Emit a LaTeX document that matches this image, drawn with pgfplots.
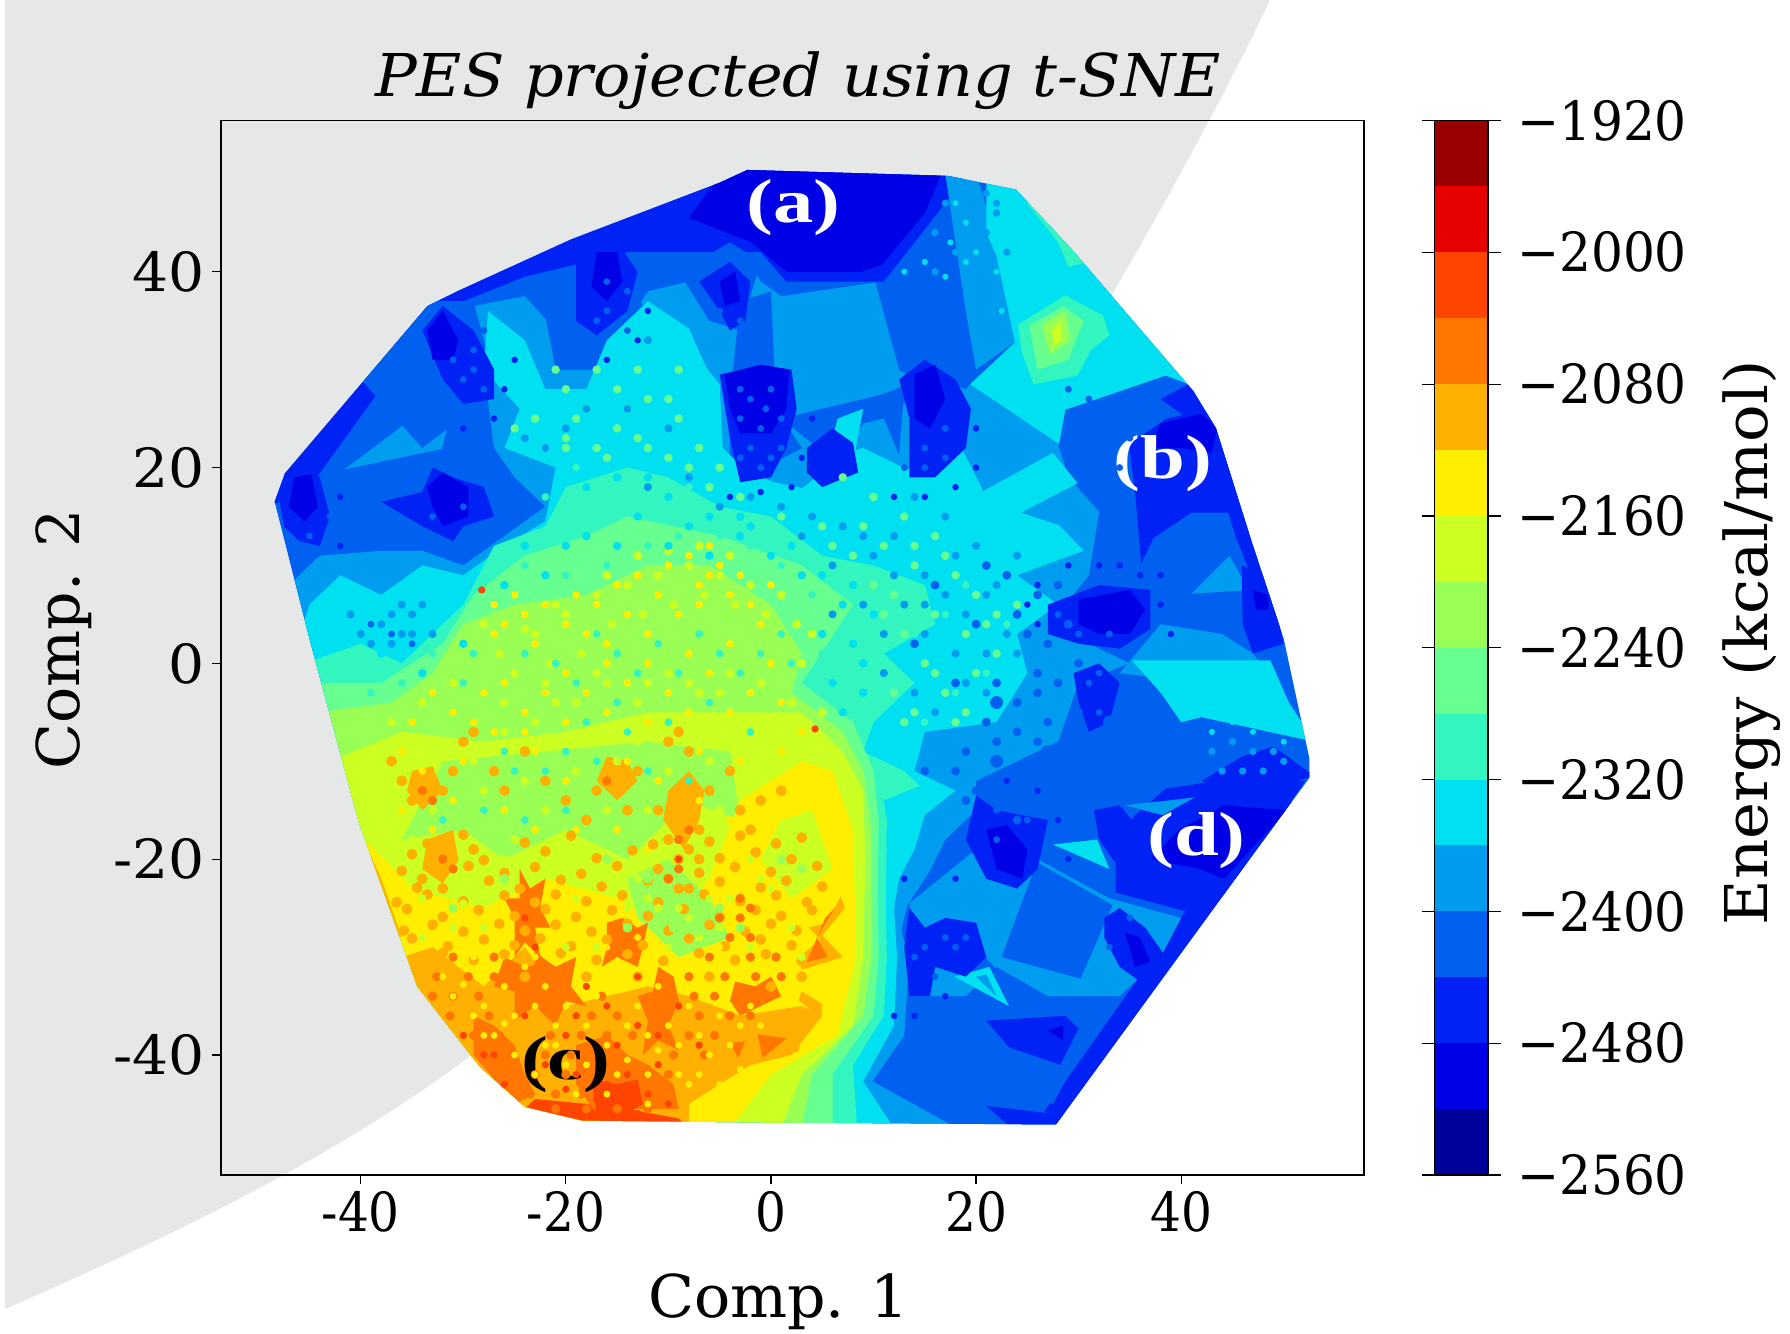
\documentclass[border=0pt]{standalone}
\usepackage{pgfplots}
\pgfplotsset{compat=1.18}
\usepackage{fontspec}
\setmainfont[FakeStretch=0.9]{DejaVu Serif}
\newfontfamily\fTitle[FakeStretch=1.05]{DejaVu Serif}
\newfontfamily\fAxis[FakeStretch=1.02]{DejaVu Serif}
\newfontfamily\fEn[FakeStretch=1.06]{DejaVu Serif}
\newfontfamily\fY[FakeStretch=1.05]{DejaVu Serif}
\newfontfamily\fC[FakeStretch=0.93]{DejaVu Serif}
\newfontfamily\lab[FakeStretch=1.3]{Liberation Serif}
\definecolor{e2540}{HTML}{00009A}\definecolor{e2500}{HTML}{0000E6}
\definecolor{e2460}{HTML}{0022F5}\definecolor{e2420}{HTML}{0060F0}
\definecolor{e2380}{HTML}{009CF0}\definecolor{e2340}{HTML}{00E0F0}
\definecolor{e2300}{HTML}{33F5C0}\definecolor{e2260}{HTML}{66FF90}
\definecolor{e2220}{HTML}{99FF55}\definecolor{e2180}{HTML}{CCFF22}
\definecolor{e2140}{HTML}{FFEE00}\definecolor{e2100}{HTML}{FFB000}
\definecolor{e2060}{HTML}{FF7700}\definecolor{e2020}{HTML}{FF4400}
\definecolor{e1980}{HTML}{E60000}\definecolor{e1940}{HTML}{990000}
\definecolor{bggray}{HTML}{E6E8E7}
\pgfplotsset{
 poly/.style={fill=#1,draw=none,forget plot},
 sp/.style 2 args={only marks,mark=*,mark size=#2,color=#1,mark options={draw=none,fill=#1},forget plot},
 sq/.style 2 args={only marks,mark=diamond*,mark size=#2,color=#1,mark options={draw=none,fill=#1},forget plot},
}
\begin{document}
\begin{tikzpicture}
\path[use as bounding box] (0pt,0pt) rectangle (895pt,667pt);
\fill[bggray] (2.5pt,667pt) -- (635pt,667pt) .. controls (606.5pt,607pt) and (558pt,519.5pt) .. (500pt,427pt) .. controls (440pt,327pt) and (350pt,232pt) .. (232.5pt,137pt) .. controls (165pt,87pt) and (86pt,49pt) .. (2.5pt,12.5pt) -- cycle;
\begin{axis}[at={(110.35pt,79.5pt)},anchor=south west,scale only axis,width=571.5pt,height=527.25pt,
 xmin=-53.66,xmax=57.8,ymin=-52.26,ymax=55.45,
 xtick={-40,-20,0,20,40},xticklabels={-40,-20,0,20,40},
 ytick={-40,-20,0,20,40},yticklabels={-40,-20,0,20,40},
 tick align=outside,tick pos=left,major tick length=4.5pt,
 tick style={black,line width=0.6pt},axis line style={line width=0.9pt},
 xticklabel style={font=\fontsize{27}{27}\selectfont},
 yticklabel style={font=\fY\fontsize{27}{27}\selectfont},
 title={\itshape PES projected using t-SNE},
 title style={at={(axis description cs:0.505,1.0265)},anchor=center,font=\fTitle\fontsize{29.5}{30}\selectfont},
 xlabel={Comp. 1},ylabel={Comp. 2},
 xlabel style={at={(axis description cs:0.488,-0.12)},anchor=center,font=\fAxis\fontsize{29.5}{30}\selectfont},
 ylabel style={at={(axis description cs:-0.137,0.508)},anchor=center,font=\fAxis\fontsize{29.5}{30}\selectfont},
 axis on top]
\clip (axis cs:-2.3,50.4)--(axis cs:17.2,49.8)--(axis cs:23.9,48.4)--(axis cs:29.5,42.1)--(axis cs:41.2,27.8)--(axis cs:43.4,24.0)--(axis cs:46.7,13.0)--(axis cs:50,2.5)--(axis cs:52.5,-9.7)--(axis cs:52.5,-11.7)--(axis cs:47.3,-19.1)--(axis cs:27.8,-47.1)--(axis cs:-0.6,-46.9)--(axis cs:-18.4,-46.7)--(axis cs:-24,-45.3)--(axis cs:-28.4,-41.2)--(axis cs:-34.5,-33)--(axis cs:-40.2,-16.2)--(axis cs:-45,2.5)--(axis cs:-48.4,16.5)--(axis cs:-47.4,19.4)--(axis cs:-33.5,36.5)--(axis cs:-30.6,38)--(axis cs:-19.5,43.3)--(axis cs:-5,49.1)--cycle;
% --- base
\addplot[poly=e2420] coordinates {(-60,60)(60,60)(60,-60)(-60,-60)} --cycle;
% --- rims
\addplot[poly=e2460] coordinates {(-49,16)(-48,21)(-34,38)(-30,39)(-20,45)(-6,51)(20,51)(14,43)(11,39)(1.5,39)(-1,42)(-14,42)(-24,39.5)(-30,37)(-36,31)(-45,18)} --cycle;
\addplot[poly=e2500] coordinates {(-8,45.5)(-5.2,49.5)(-2,51)(17,51)(16.4,49.4)(15,46)(10.8,40.7)(8.8,40)(1.5,40)(-1.9,43)} --cycle;
\addplot[poly=e2460] coordinates {(27.8,-47.5)(54,-12)(48,-16)(44,-20)(26.5,-46)} --cycle;
\addplot[poly=e2460] coordinates {(40.7,28.5)(44,24.5)(47.5,13)(50.5,3)(48.7,4)(45.3,13)(42,24)(38,27)} --cycle;
\addplot[poly=e2460] coordinates {(36.1,10.2)(35.5,17.6)(34.9,22.4)(38.6,25)(42.3,25.9)(43.5,24.6)(45.9,16.8)(48.4,8)(45.9,15.4)(41,15.4)(37.3,12.8)} --cycle;
\addplot[poly=e2500] coordinates {(37,22)(38,24.5)(42,25.5)(43.5,24)(43,21.5)(40,22)} --cycle;
% --- light blue field
\addplot[poly=e2380] coordinates {(-41.6,19.8)(-32.1,21.9)(-30.4,28.5)(-35,25)} --cycle;
\addplot[poly=e2380] coordinates {(-47,8)(-44,11)(-38,11.5)(-34,11.5)(-30,10)(-26,13)(-22,16)(-25,19)(-27,22)(-27.5,26)(-28,30)(-29,36.5)(-24,37.5)(-21,34)(-17,31.5)(-14.5,34)(-12,38)(-8,39)(-3,42.4)(-1,39)(1,37.5)(10.2,38.9)(12.1,33.3)(14,30)(17,29)(19.4,28.5)(28.7,25.9)(28,22.4)(29,19)(32,15.5)(31,9)(28,5)(31,2)(35,0)(30,-2)(28,-8)(24,-10)(20,-12)(20,-15)(17,-18)(15.5,-21.2)(13.3,-24.7)(12.7,-27.3)(13.5,-30)(13,-38)(9.9,-42.7)(18.2,-47.5)(-30,-47.5)(-50,-20)} --cycle;
\addplot[poly=e2380] coordinates {(41,7.1)(44.7,11)(46.6,7.5)} --cycle;
\addplot[poly=e2380] coordinates {(38,4)(44,3)(47,1)(50,-3)(34,-1)} --cycle;
% pieces in the upper field
\addplot[poly=e2420] coordinates {(-3,37)(0,38)(0.5,26)(3,22)(-4,18)(-4,27)} --cycle;
\addplot[poly=e2420] coordinates {(10.2,38.9)(11.5,39)(14.5,30)(19,28)(23,33)(19.5,38)(17,36)(14.5,39.5)(14,29)(12.5,30)} --cycle;
\addplot[poly=e2420] coordinates {(5.5,23.5)(14,27)(14.5,29)(5,25)} --cycle;
\addplot[poly=e2420] coordinates {(1,25)(13,28)(12,15)(3,14)(7,20)} --cycle;
\addplot[poly=e2380] coordinates {(9,24.5)(11,25)(13,20)(10,19.5)(7,22)} --cycle;
\addplot[poly=e2340] coordinates {(6.5,25)(9,26)(8,20.5)(5.5,21)} --cycle;
\addplot[poly=e2420] coordinates {(-22,35.5)(-18,41)(-14,41)(-12,35)(-16,30)(-21,30)} --cycle;
\addplot[poly=e2420] coordinates {(-40,29)(-33,37)(-29,37)(-27,29)(-29,26)(-34,22)} --cycle;
\addplot[poly=e2420] coordinates {(-9,40)(-4,43)(-1,41)(-3,34)(-6,35)} --cycle;
% --- cyan
\addplot[poly=e2380] coordinates {(17,50)(20,50)(23,40)(24,33)(20,30)(19,36)(18,43)} --cycle;
\addplot[poly=e2340] coordinates {(21,49)(24,49)(30,43)(42,28)(38.5,29.4)(28.7,25.9)(28.1,22.4)(21.3,27.2)(19.4,28.5)(23.8,32.8)(22,41.6)(21,44)} --cycle;
\addplot[poly=e2300] coordinates {(24.1,34.6)(28.7,37.6)(32.4,35.5)(33,33.5)(31.2,32)(29.9,29.4)(25.6,28.5)(24.4,32)} --cycle;
\addplot[poly=e2260] coordinates {(25.2,34.5)(28.5,36.5)(30.5,35)(29,31)(26,30)} --cycle;
\addplot[poly=e2220] coordinates {(26.5,34.6)(28.7,36)(29.2,33)(27.2,31.5)} --cycle;
\addplot[poly=e2180] coordinates {(27.4,34)(28.2,35)(28.4,33)(27.6,32.5)} --cycle;
\addplot[poly=e2300] coordinates {(25,47)(27,46.5)(31,41)(29,40.5)(28,43)} --cycle;
\addplot[poly=e2340] coordinates {(35.2,0.3)(48.7,0.3)(50.5,-4)(53,-8)(42,-5.5)(40,-6)(38,-3)} --cycle;
\addplot[poly=e2340] coordinates {(-46.5,1)(-45,6)(-42,9)(-38,7)(-34,10)(-30,9)(-26,12)(-22,14.5)(-21,20)(-26,22)(-24.5,26)(-28,30)(-27.6,36)(-24,33)(-22,28)(-18,28)(-16,33)(-12,37)(-8,34.2)(-6.3,30.2)(-5,28.5)(-4.7,22)(-2.5,19.7)(0.3,18.5)(3.1,17.9)(7.1,21.5)(9,22)(13.3,19.8)(18.2,22.8)(20.7,17.6)(27.5,21.5)(29.9,18.4)(24.4,15.4)(28.1,14.1)(30.5,11.5)(24,9)(28,6)(24,3)(25,-1)(22,-6)(15,-7)(14,-11)(18,-13)(15,-15.5)(14,-19)(12.5,-22)(12,-25)(12.3,-30)(12,-37)(9,-42.7)(12,-47.5)(-30,-47.5)(-50,-20)} --cycle;
\addplot[poly=e2340] coordinates {(20,-26)(23.2,-25.5)(21.3,-29.7)} --cycle;
% --- warm bands
\addplot[poly=e2300] coordinates {(-45.5,0)(-40,2)(-36,0)(-30,6)(-27,12)(-22,14)(-20,18)(-14,20)(-10,19)(-5,16)(0,15)(5,11)(10,10)(15,8)(16,4)(11,1)(14,-2)(10,-6)(9,-9)(13,-11)(14.5,-12.5)(11,-14)(11.3,-16)(11.2,-25)(11.3,-30)(11,-36)(8,-41)(8.4,-47.5)(-30,-47.5)(-50,-20)} --cycle;
\addplot[poly=e2260] coordinates {(-45,-2)(-38,-2)(-32,2)(-29,7)(-24,11)(-18,13)(-14,15)(-5,13)(3,10)(8,6)(3,-2)(8,-6)(10,-11)(10.5,-16)(10.4,-25)(10.5,-30)(10,-36)(6,-42)(6,-47.5)(-30,-47.5)(-50,-20)} --cycle;
\addplot[poly=e2220] coordinates {(-44,-5)(-37,-4)(-33,-1)(-30,4)(-25,6)(-18,7)(-12,10)(-6,10)(0,6)(3,1)(2,-3)(7,-7)(9,-11)(9.8,-17)(9.8,-30)(9,-36)(4,-42)(3,-47.5)(-30,-47.5)(-50,-20)} --cycle;
\addplot[poly=e2180] coordinates {(-43,-10)(-36,-7)(-28,-8)(-20,-7)(-12,-5)(-5,-5)(3,-5)(7,-9)(9,-13)(9.2,-20)(9,-30)(8,-37)(3,-42)(1,-47.5)(-30,-47.5)(-50,-20)} --cycle;
\addplot[poly=e2220] coordinates {(-32,-10)(-22,-9)(-12,-8)(-4,-9)(-3,-16)(-8,-14)(-14,-20)(-20,-17)(-26,-20)(-30,-17)(-36,-18)} --cycle;
\addplot[poly=e2140] coordinates {(-40.5,-17)(-35,-23)(-28,-25)(-22,-22)(-15,-24)(-10,-27)(-6,-22)(-3,-14)(3,-10)(6,-11)(8,-17)(8.2,-25)(8.3,-30)(6.5,-38)(0,-42)(-4,-47.5)(-26,-47.5)(-35,-35)} --cycle;
\addplot[poly=e2220] coordinates {(-14,-22)(-10,-20)(-6,-24)(-4,-28)(-9,-30)(-13,-26)} --cycle;
\addplot[poly=e2180] coordinates {(1,-16)(4,-15)(6,-21)(2,-24)(-1,-20)} --cycle;
\addplot[poly=e2100] coordinates {(-36,-30)(-33,-29)(-28,-33)(-24,-29)(-20,-35)(-12,-33)(-8,-34)(-3,-36)(3,-35)(5,-36)(2,-40)(-2,-41)(-8,-45)(-8,-47.5)(-26,-47.5)(-34,-37)} --cycle;
\addplot[poly=e2100] coordinates {(-41,-15)(-38,-22)(-36,-28)(-37.5,-28)} --cycle;
\addplot[poly=e2020] coordinates {(-25,-46.5)(-23,-44.5)(-18,-45)(-14,-45.5)(-9,-46.5)(-8,-47.5)} --cycle;
\addplot[poly=e2100] coordinates {(6.8,-23.8)(7.2,-25)(5,-27.8)(7,-30)(3,-31.3)(2.8,-30)(4.8,-28.2)(3.7,-27)(5.4,-26.5)} --cycle;
\addplot[poly=e2100] coordinates {(3,-33.5)(5,-34.8)(4.9,-36.3)(2.7,-34.4)} --cycle;
\addplot[poly=e2100] coordinates {(-0.2,-37.4)(2.9,-38.3)(2.7,-39.6)(-1.8,-41)(-5.2,-40.5)(-4,-38.3)} --cycle;
\addplot[poly=e2060] coordinates {(-1.3,-37.9)(1.5,-38.3)(-0.8,-40.3)} --cycle;
\addplot[poly=e2060] coordinates {(-4,-38.8)(-2.5,-38.6)(-3.2,-40.3)} --cycle;
\addplot[poly=e2060] coordinates {(5.3,-26)(6.2,-25)(4.5,-28)(5.5,-30)(3.5,-30.5)} --cycle;
\addplot[poly=e2020] coordinates {(-35,-34.5)(-29,-42)(-25,-46)(-26,-46)(-30,-41)} --cycle;
% jagged orange patches of the lower left
\addplot[poly=e2060] coordinates {(-24.5,-21)(-23.5,-23)(-22,-22)(-22.5,-25)(-21.5,-27)(-23,-27)(-22.5,-30)(-24,-28.5)(-25,-30)(-25,-26)(-26,-24)(-24.5,-24)} --cycle;
\addplot[poly=e2060] coordinates {(-26,-30)(-24,-31)(-23,-29.5)(-21,-31)(-19,-30)(-19.5,-33)(-18,-35)(-20,-34.5)(-21,-37)(-23,-35)(-25,-36.5)(-25,-33.5)(-27,-33)} --cycle;
\addplot[poly=e2060] coordinates {(-16,-26.5)(-14.5,-26)(-13,-27)(-12,-26.5)(-12.5,-29)(-13,-31)(-15,-30)(-16.5,-31)(-16,-29)} --cycle;
\addplot[poly=e2060] coordinates {(-11,-31)(-9.5,-32)(-9,-34.5)(-10,-37)(-9,-39.5)(-11,-38.5)(-12.5,-40)(-12,-36.5)(-13,-34)(-11.5,-33.5)} --cycle;
\addplot[poly=e2060] coordinates {(-3.5,-32.5)(-1.5,-33)(0,-32)(1,-34)(-1,-35)(-3,-36)(-4,-34.5)} --cycle;
\addplot[poly=e2060] coordinates {(-19,-39)(-16,-38)(-14,-40)(-12,-41)(-9.5,-43)(-9,-45.5)(-13,-45.5)(-17,-46)(-19,-43)} --cycle;
\addplot[poly=e2060] coordinates {(-29,-36)(-27,-37)(-25,-39)(-24,-42)(-23,-44)(-25,-45)(-27,-42.5)(-29,-40)} --cycle;
\addplot[poly=e2020] coordinates {(-17.5,-42.5)(-15,-43)(-13,-42.5)(-12.5,-45)(-15,-46.5)(-17,-46)} --cycle;
\addplot[poly=e2100] coordinates {(-10,-13)(-8,-11)(-6.5,-13)(-7,-16)(-8.5,-19)(-10.5,-16)} --cycle;
\addplot[poly=e2100] coordinates {(-33.5,-18)(-31,-17)(-30.5,-20)(-32,-22.5)(-34,-21)} --cycle;
\addplot[poly=e2100] coordinates {(-16,-9.5)(-14,-10)(-13,-12)(-15,-14)(-17,-12)} --cycle;
\addplot[poly=e2100] coordinates {(-35,-11)(-33,-10.5)(-32,-13)(-34,-15)(-35.5,-13)} --cycle;
% --- speckle, centre
\addplot[sp={e2180}{2pt}] coordinates {(-28,4)(-26.5,1)(-25,-1)(-23,3)(-21.5,0)(-20,5)(-18.5,1)(-17,7)(-15.5,4)(-14,8)(-12.5,5)(-11,9)(-9.5,6)(-8,10)(-6.5,7)(-5,9)(-3.5,6)(-2,8)(-0.5,5)(1,7)(2.5,4)(4,3)(-22,-2)(-19,-4)(-16,-2)(-13,-4)(-10,-1)(-7,-3)(-4,-1)(-1,-2)(2,-4)(5,-5)(-34,-4)(-31,-2)(-37,-6)(-29,-10)(-26,-7)(-23,-6)(-18,-8)(-13,-8)(-8,-7)(-3,-7)(-32,-8)(-24,-12)(-19,-11)(-15,-10)(-10,-11)(-6,-10)(-1,-11)(-28,-13)(-33,-15)(-22,-15)(-16,-15)(-5,-15)(-30,-19)(-25,-18)(-17,-19)(-12,-15)(-24,3.5)(-21,6)(-16,9)(-13,11)(-10,11.5)(-7,12)(-4,11)(-26,-4)(-21,-4)(-17,-1)(-12,-2)(-8,-2)(-5,-3)(-1,1)(3,0)};
\addplot[sp={e2140}{1.7pt}] coordinates {(-27,6)(-26,4)(-27,3)(-25,7)(-24,5)(-23,2)(-22,6)(-20,4)(-19,7)(-18,3)(-17,6)(-16,2)(-15,8)(-14,5)(-13,9)(-12,3)(-11,7)(-10,10)(-9,5)(-8,11)(-7,8)(-6,9)(-5,10)(-6,12)(-7,6)(-4,7)(-3,9)(-2,6)(-1,4)(0,8)(-20,-1)(-18,-3)(-16,0)(-14,-2)(-12,0)(-10,-3)(-8,1)(-6,-1)(-4,2)(-2,-3)(0,0)(-24,-5)(-22,-3)(-26,-2)(-28,-3)(-31,-5)(-33,-3)(-35,-6)(-29,-6)(-27,-7)(-24,-7)(-20,-6)(-16,-5)(-12,-6)(-8,-5)(-4,-5)(1,-4)(3,-7)(-36,-9)(-34,-11)(-30,-10)(-27,-11)(-23,-9)(-20,-12)(-14,-10)(-11,-12)(-7,-9)(-3,-10)(1,-9)(-36,-15)(-33,-17)(-31,-14)(-26,-15)(-23,-17)(-19,-17)(-15,-17)(-12,-19)(-7,-14)(-4,-16)(-1,-15)(-2,-19)};
\addplot[sp={e2300}{1.7pt}] coordinates {(-24,1)(-21,0)(-19,-2)(-17,3)(-15,1)(-13,-1)(-11,2)(-9,-1)(-7,3)(-5,1)(-3,-1)(-1,1)(1,3)(2,0)(-18,-6)(-14,-7)(-10,-6)(-6,-4)(-2,-7)(-30,-2)(-26,-9)(-22,-11)(-17,-10)(-12,-11)(-8,-12)(-32,-16)(-28,-15)(-24,-16)(-20,-15)(-2,12)(1,10)(4,7)(-12,12)(-16,10)(-9,13)(-5,13)(-20,9)(-24,10)(-26,8)(-29,1)(-33,1)(-36,-2)(-39,-3)(6,5)(5,1)(4,-2)(-15,-4)(-20,-9)(-25,-11)(7,8)(9,3)(12,6)(14,3)(17,5)(19,8)(11,-3)(15,-6)(18,-3)(21,-1)(23,4)(-17,15)(-13,17)(-8,18)(-19,20)(-22,17)};
\addplot[sp={e2340}{1.9pt}] coordinates {(-18,13)(-13,15)(-8,14)(-3,15)(2,12)(5,9)(8,8)(10,5)(8,2)(5,3)(6,-2)(9,-3)(-22,9)(-26,8)(-30,2)(-34,-1)(-38,1)(-3,13)(0,11)(-10,12)(-32,6)(-15,12)(-6,11)(3,9)(7,6)(9,0)(7,-5)(-24,12)(-20,12)(-15,19)(-10,17)(-6,15)(-2,14)(-18,18)(-12,19)};
\addplot[sp={e2260}{1.9pt}] coordinates {(-20,23)(-16,21)(-13,23)(-17,22)(-19,25)(-15,24)(-12,22)(-10,21)(-8,20)(-6,18)(-7,22)(-9,25)(-12,27)(-15,28)(-20,28)(-23,25)(-20,22)(7,19)(10,17)(13,15)(16,13)(11,12)(14,10)(18,9)(20,7)(16,5)(19,3)(22,5)(13,3)(15,0)(12,-3)(17,-3)(20,-1)(14,-5)(18,-6)(22,1)(8,11)(5,14)(-18,26)(-14,26)(-10,27)(-22,22)(9,14)(12,7)(14,12)(17,11)(21,4)(24,6)(10,8)(11,5)(16,-1)(13,-6)(19,-5)(-25,24)(-21,30)(-17,30)(-13,30)(-9,30)(1,15)(3,13)(6,12)(-3,17)(-5,20)};
\addplot[sp={e2380}{1.8pt}] coordinates {(-14,26)(-10,24)(-12,18)(-8,19)(-5,16)(-2,17)(1,16)(4,15)(7,14)(9,13)(12,9)(15,6)(9,6)(6,5)(11,-1)(18,1)(21,-3)(23,-5)(25,-7)(20,-8)(17,-9)(24,1)(26,3)(22,8)(24,11)(20,12)(17,15)(14,17)(-37,5)(-35,3)(-38,4)(-36,6)(-39,2)(-34,6)(-41,5)(-33,3)(-12,33)(-18,26)(-22,22)(11,3)(13,6)(15,3)(17,7)(19,5)(21,1)(23,3)(14,-3)(16,-5)(19,-2)(22,-2)(10,11)(12,13)(15,9)(18,11)(21,7)(6,10)(3,13)(-20,24)(-24,23)(-37,2)(-35,5)(-40,3)(-36,3)};
\addplot[sp={e2420}{2pt}] coordinates {(14,2)(18,-2)(22,-2)(24,-4)(26,-3)(27,-6)(25,-10)(22,-8)(19,-9)(20,4)(24,5)(26,7)(28,8)(27,2)(28,-2)(23,9)(21,10)(16,8)(29,4)(30,0)(30,-5)(28,-10)(15,-11)(18,-11)(22,-12)(25,-12)(28,-13)(23,-14)(19,-14)(27,-15)(30,-12)(25,3)(26,-1)(24,-7)(21,-6)(23,-11)(26,-8)(20,-13)(24,-16)};
\addplot[sp={e2420}{3pt}] coordinates {(27,-9)(22,-4)(33,-6)(22,-10)(31,-10)(36,-8)};
% --- speckle, warm
\addplot[sp={e2100}{2.5pt}] coordinates {(-37,-10)(-36,-12)(-35,-14)(-33,-12)(-32,-13)(-31,-11)(-30,-8)(-29,-7)(-27,-11)(-26,-13)(-24,-9)(-22,-12)(-20,-14)(-18,-16)(-17,-13)(-16,-11)(-15,-13)(-14,-15)(-13,-11)(-11,-15)(-10,-8)(-9,-7)(-8,-9)(-9,-16)(-8,-15)(-7,-17)(-8,-19)(-9,-20)(-7,-20)(-10,-18)(-11,-21)(-10,-22)(-9,-23)(-6,-13)(-4,-11)(-3,-15)(-2,-17)(-1,-14)(1,-13)(-33,-19)(-32,-21)(-34,-22)(-31,-20)(-32,-23)(-29,-19)
(-33.5,-18.4)(-30,-17.5)(-24,-18.3)(-19.5,-17.6)(-11.5,-18.5)(-8.5,-17.4)(-6,-18.2)(-3,-17.6)(0.5,-18.4)(3,-17.8)
(-35,-19.5)(-28,-20.1)(-22,-19.2)(-17,-19.9)(-13.5,-19.1)(-5,-19.9)(-1.5,-19.3)(2,-20)
(-36,-21.2)(-29.5,-20.7)(-26,-21.4)(-23,-20.8)(-18.5,-21.5)(-15,-20.7)(-7,-21.4)(-3.5,-20.8)(0,-21.3)(4.5,-20.7)
(-34.5,-22.9)(-27.5,-22.2)(-24.5,-23)(-20.5,-22.1)(-16.5,-22.8)(-12,-22.2)(-8,-23)(-5,-22.3)(-1,-22.9)(1.5,-22.2)(5,-22.8)
(-36.5,-24.4)(-33.5,-23.6)(-30,-24.3)(-26,-23.7)(-23,-24.4)(-21,-23.6)(-18,-24.3)(-14.5,-23.7)(-11,-24.4)(-6.5,-23.6)(-3,-24.3)(0.5,-23.7)(3.5,-24.4)
(-35.5,-25.1)(-32,-25.9)(-28.5,-25.2)(-25,-25.8)(-22,-25.1)(-19,-25.9)(-15.5,-25.2)(-12,-25.8)(-8.5,-25.1)(-5,-25.9)(-1.5,-25.2)(1,-25.8)(4,-25.2)
(-35.8,-27.3)(-33,-26.7)(-30,-27.4)(-26.5,-26.6)(-24,-27.3)(-21,-26.7)(-17.5,-27.4)(-14,-26.6)(-10,-27.3)(-6,-26.7)(-2.5,-27.4)(0,-26.6)(2.5,-27.3)
(-35,-28.1)(-31.5,-28.9)(-28,-28.2)(-25,-28.8)(-22.5,-28.1)(-19.5,-28.9)(-16,-28.2)(-12.5,-28.8)(-8,-28.1)(-4.5,-28.9)(-1,-28.2)(2,-28.8)
(-34,-30.4)(-32,-29.6)(-29,-30.3)(-26,-29.7)(-23.5,-30.4)(-20.5,-29.6)(-17,-30.3)(-14,-29.7)(-10.5,-30.4)(-7,-29.6)(-3.5,-30.3)(-0.5,-29.7)(3,-30.4)
(-30,-32)(-24,-32)(-18,-32)(-13,-32)(-6,-32)(0,-33)(3,-32)};
\addplot[sp={e2180}{1.8pt}] coordinates {(-34,-24)(-30,-24.5)(-27,-24)(-26,-20)(-21,-21)(-17,-29)(-14,-25)(-11,-25)(-8,-26)(-7,-28)(-5,-27)(-13,-22)(-10,-29)(-6,-24)(-20,-29)(-28,-27)(-31,-27)(-34,-28)(-2,-29)(-1,-22)(2,-27)(3,-30)(-16,-22)(-23,-22)(-37,-19)(-35,-18)(-13,-20)(-9,-25)(-12,-24)(-4,-24)(0,-23)(-19,-24)(-2,-20)};
\addplot[sp={e2220}{2.2pt}] coordinates {(-12,-22)(-9.5,-27)(-7,-25)(-5,-25)(-14,-27)(-3,-27)(-26,-22)(-16,-20)(-31,-25)(1,-20)(3,-21)};
\addplot[sp={e2060}{2.1pt}] coordinates {(-34,-13)(-33,-14)(-9,-18)(-8,-17)(-10,-22)(-9,-21)(-16,-12)(-3,-24)(-2,-25)(-31,-21)(-32,-20)
(-5,-26)(-3,-26)(-4,-28)(-2,-28)
(-31,-30)(-27,-30)(-6,-30)(-2,-30)(0.5,-30)
(-32.6,-32)(-29.5,-32)(-27,-32)(-8,-32)(-4.5,-32)(-1.5,-32)(1,-32)
(-33,-34)(-31,-34)(-28.5,-34)(-16.5,-34)(-7.5,-34)(-5.5,-34)(-3,-34)
(-31.3,-36)(-27.5,-36)(-17.5,-36)(-15,-36)(-7,-36)(-4,-36)(-2,-36)
(-29,-38)(-26.5,-38)(-21.5,-38)(-18.5,-38)(-16,-38)(-13.5,-38)(-8,-38)(-5.5,-38)
(-27.5,-40)(-22,-40)(-19.5,-40)(-9.5,-40)(-6.5,-40)
(-25.5,-42)(-23,-42)(-20,-42)(-10,-42)
(-23.5,-44)(-21,-44)(-18.5,-44)(-21,-45.5)(-18,-45.5)(-15,-45.5)(-12,-45.5)};
\addplot[sp={e2020}{1.6pt}] coordinates {(-30,-38)(-27,-40)(-22,-41)(-19,-42)(-16,-43)(-14,-42)(-12,-44)(-10,-45)(-20,-38)(-15,-39)(-11,-38)(-24,-36)(-18,-33)(-13,-32)(4.3,-6.7)(-28.2,7.5)(-26,-43)(-23,-45)(-20,-43.5)(-17,-44.5)(-14,-44)(-19,-46)(-17,-46)(-13,-46)(-28,-40)(-9,-20)(-24,-26)(-23,-29)(-19,-36)(-16,-35)(-13,-37)(-9,-35)(-7,-39)(-11,-41)};
\addplot[sp={e2140}{1.5pt}] coordinates {(-31,-34)(-30,-32.8)(-28,-35)(-27,-31)(-26,-33)(-25,-36)(-24,-31)(-23,-35)(-22,-33)(-21,-37)(-20,-35)(-19,-32)(-18,-37)(-17,-34)(-16,-39)(-15,-33)(-14,-37)(-13,-35)(-12,-38)(-11,-33)(-10,-37)(-9,-39)(-8,-35)(-7,-38)(-6,-33)(-5,-36)(-4,-35)(-3,-37)(-2,-35)(0,-35)(-27,-38)(-25,-40)(-22,-39)(-18,-41)(-15,-42)(-12,-42)(-9,-42)(-23,-42)(-20,-41)(-16,-44)(-12,-45)(-19,-44)(-32,-32)(-29,-30)(-23,-30)(-19,-28)(-16,-29)(-13,-28)(-9,-31)(-5,-29)(-2,-31)(-26,-36.8)(-28,-38)(-21,-39)(-14,-40.5)(-11,-39.5)(-7,-42)(-4,-39)(-29,-36)(-6,-40)(-3,-41.5)(-8,-43)(-1,-37)(-5,-43)};
% --- dark blobs
\addplot[poly=e2460] coordinates {(-48,17)(-46,21)(-44,19)(-43,15)(-44,12)(-46,12.5)(-47.5,14)} --cycle;
\addplot[poly=e2500] coordinates {(-46.5,19)(-44.8,19.3)(-44.2,16)(-45.5,14.5)(-47,16)} --cycle;
\addplot[poly=e2460] coordinates {(-34,34)(-32,36.5)(-29,34)(-27,30)(-27,27)(-30,26.5)(-32,29)} --cycle;
\addplot[poly=e2500] coordinates {(-33.5,34)(-32,36)(-30.5,33)(-31,31)(-33,31)} --cycle;
\addplot[poly=e2460] coordinates {(-19,41)(-15,43)(-13,40)(-14,36)(-17,33.5)(-19,35)} --cycle;
\addplot[poly=e2500] coordinates {(-17,42)(-15,42)(-14.5,39)(-16,37)(-17.5,38.5)} --cycle;
\addplot[poly=e2460] coordinates {(-7,39)(-4,41)(-2,39)(-2.5,35)(-4,34)(-5,36)} --cycle;
\addplot[poly=e2500] coordinates {(-5,39)(-3.5,40)(-3,37)(-4.5,36.5)} --cycle;
\addplot[poly=e2460] coordinates {(-5,29.5)(-1,30.5)(2,30)(2.5,26)(1.5,22)(0,19)(-3,18.5)(-4,23)} --cycle;
\addplot[poly=e2500] coordinates {(-4.5,29.5)(-1,30.5)(1.8,30)(1.5,26)(0,23.5)(-3,23.5)(-4,26)} --cycle;
\addplot[poly=e2420] coordinates {(-41,18)(-37,19)(-32,21)(-28,19)(-24,18)(-26,13)(-29,12)(-33,13)(-36,15)} --cycle;
\addplot[poly=e2460] coordinates {(-38,16.5)(-34,17.5)(-33,20)(-31,19)(-28,18)(-27,15)(-30,14)(-31,12.5)(-34,14)} --cycle;
\addplot[poly=e2500] coordinates {(-33.5,18)(-32,19.5)(-29.5,18)(-29.5,15)(-32,14)(-33,16)} --cycle;
\addplot[poly=e2460] coordinates {(12.5,29)(15,31)(18,29)(19.5,26)(19,22)(16,19)(13.5,19)(13.5,25)} --cycle;
\addplot[poly=e2500] coordinates {(14,29.5)(16,30.5)(17,27)(15.5,24)(14,25)} --cycle;
\addplot[poly=e2460] coordinates {(3.5,22)(6,24)(8,22.5)(8.5,19.5)(5,18)(3.5,19.5)} --cycle;
\addplot[poly=e2460] coordinates {(27,6)(32,8)(37,7.5)(37,3.5)(34,1.5)(30,2)(27,3)} --cycle;
\addplot[poly=e2500] coordinates {(30,6.5)(35,7.5)(36.5,5.5)(35,3)(32,3)(30,4)} --cycle;
\addplot[poly=e2460] coordinates {(45.9,10)(48.5,9)(50,2)(47,1)(46,4)} --cycle;
\addplot[poly=e2500] coordinates {(47,7.5)(48.5,7)(48.5,5.5)(47.3,5.5)} --cycle;
\addplot[poly=e2460] coordinates {(29.5,-1)(32,0)(34,-2)(33,-6)(31,-7)(30,-4)} --cycle;
\addplot[poly=e2420] coordinates {(37,-10)(39,-8)(43,-7)(46,-7)(50,-9)(52,-11)(44,-13)(38,-14)} --cycle;
\addplot[poly=e2460] coordinates {(42,-12)(46,-9.5)(49,-8.5)(53,-11.5)(48,-13)(44,-13)} --cycle;
\addplot[poly=e2460] coordinates {(38.5,-12.8)(45.9,-11.6)(52.1,-12)(45,-23)(41.8,-25.7)(33.6,-23.4)(33.6,-20)(35.4,-15.6)} --cycle;
\addplot[poly=e2500] coordinates {(37,-20)(41.8,-21)(44.2,-22)(50.3,-15)(44.2,-14.5)(39.8,-17)} --cycle;
\addplot[poly=e2380] coordinates {(34.5,-14.5)(41.3,-13.7)(38.2,-15.5)} --cycle;
\addplot[poly=e2460] coordinates {(31.5,-15)(34,-14.5)(36,-17)(36,-20)(34,-21)(32,-18)} --cycle;
% lower right
\addplot[poly=e2380] coordinates {(13.5,-24.5)(20,-19)(26,-20)(33,-24)(40,-26)(38,-30)(34,-34)(31,-34)(27,-34)(22,-31)(19,-34)(14,-34)} --cycle;
\addplot[poly=e2420] coordinates {(22.5,-30)(25.9,-20.3)(33.3,-24.7)(30.2,-32.2)} --cycle;
\addplot[poly=e2420] coordinates {(16,-35)(20.3,-33.5)(25.2,-35.2)(27,-36)(30.8,-36)(31.6,-37)(27.5,-45)(13.6,-42)(13,-39.2)} --cycle;
\addplot[poly=e2420] coordinates {(20,-29)(28,-38)(25,-38)(18,-30)} --cycle;
\addplot[poly=e2340] coordinates {(17.9,-32)(21.3,-31)(23.2,-35)} --cycle;
\addplot[poly=e2380] coordinates {(20,-32)(21,-31.8)(22,-34)} --cycle;
\addplot[poly=e2340] coordinates {(27.5,-18.5)(31.8,-18)(33,-21)} --cycle;
\addplot[poly=e2460] coordinates {(21,-36.5)(28.7,-36)(30,-37.3)(28.2,-41)(23.2,-39.2)} --cycle;
\addplot[poly=e2500] coordinates {(27,-37.5)(28.5,-37)(28.5,-38.5)} --cycle;
\addplot[poly=e2420] coordinates {(14.2,-43.5)(27.5,-46)(27.8,-47.5)(20,-47.5)} --cycle;
\addplot[poly=e2460] coordinates {(21,-45.2)(27.5,-46)(27.8,-47.5)(23.5,-47.5)} --cycle;
\addplot[poly=e2460] coordinates {(20,-13.5)(22,-15)(27,-16)(26,-21)(24,-23)(21,-22)(19,-18)} --cycle;
\addplot[poly=e2500] coordinates {(21,-17)(23,-16.5)(25,-19)(24.5,-22)(22,-21)} --cycle;
\addplot[poly=e2460] coordinates {(13.5,-25)(15,-27)(17,-26)(20,-26.5)(21,-30)(19,-32)(16,-31)(15.5,-34)(13.5,-34)(13,-29)} --cycle;
\addplot[poly=e2460] coordinates {(32.5,-26)(34,-25)(36.5,-27)(38.5,-30)(36,-32.5)(34,-31)(32.5,-28)} --cycle;
\addplot[poly=e2500] coordinates {(34.5,-27.5)(36,-28)(37,-30.5)(35.5,-31)} --cycle;
% --- speckle on dark blobs
\addplot[sp={e2420}{1.5pt}] coordinates {(-2,27)(0,28)(-3,25)(1,25)(-1,24)(-2,22)(0,21)(-1,20)(1,22)(-3,21)(-31,31)(-29,32)(-32,28)(-30,29)(-28,28)(-16,36)(-14,38)(-17,35)(15,22)(17,24)(15,20)(17,21)(13,20)(-30,16)(-33,15)(-43,15)(-45,13)(33,3)(30,3)(28,5)(-5,36)(-3,35)(31,-2)(32,-5)(32,-1)(22,-18)(25,-16)(22,-15)(18,-29)(16,-32)(15,-29)(19,-28)(35,-26)(33,-29)(-0.5,26)(-3,28)(-16,39)(-14,34)(-29,30)(-28,34)(14,-30)(17,-28)};
\addplot[sp={e2460}{1.4pt}] coordinates {(-4,17)(-1,17.5)(2,18)(3,21)(4,25)(12,17)(15,17)(18,18)(20,20)(20,24)(-27,25)(-26,28)(-25,31)(-30,24)(-16,31)(-13,33)(-12,36)(23,-12)(26,-13)(28,-16)(29,-20)(18,-22)(13,-22)(12,-36)(14,-36)(17,-34)(37,-24)(26,4)(25,6)(26,8)(38,6)(39,3)(38,9)(29,10)(32,10)(34,10)(36,9)(-42,12)(-42,17)};
\addplot[sp={e2340}{1.3pt}] coordinates {(18,47)(19,45)(17.5,43)(15,41)(19,41)(17,39.5)(13,40)(22,44)(24,46)(20,42)(22,40)(23,38)(25,44)(27,40)(25,37)(22.5,36)(46,-3)(48,-4)(45,-6)(47,-7)(49,-6)(50,-8)(44,-4)(43,-7)};
\addplot[sp={e2380}{1.6pt}] coordinates {(20,46)(21,48)(19,48)(17,47)(16,44)(18,42)(16,40)(22,46)(45,-8)(47,-9)(49,-9)(43,-9)(44,-11)(46,-11)(48,-11)(50,-10)(21,44)(23,42)(19,39)(22,47)};
\addplot[sp={e2420}{1.5pt}] coordinates {(30,24)(32,22)(31,19)(33,18)(33,25)(35,26)(37,27)(34,20)(29,28)(33,27)(-37,3)(-35,2)(-39,4)(31,27)(35,23)(33,21)};
% --- point labels
\node[text=white,font=\lab\bfseries\fontsize{31}{31}\selectfont] at (axis cs:2.2,46.6) {(a)};
\node[text=white,font=\lab\bfseries\fontsize{31}{31}\selectfont] at (axis cs:38.2,20.4) {(b)};
\node[text=black,font=\lab\bfseries\fontsize{31}{31}\selectfont] at (axis cs:-20,-41) {(c)};
\node[text=white,font=\lab\bfseries\fontsize{31}{31}\selectfont] at (axis cs:41.5,-18.1) {(d)};
\end{axis}
\begin{axis}[at={(717.25pt,79.5pt)},anchor=south west,scale only axis,width=26.75pt,height=527.25pt,
 xmin=0,xmax=1,ymin=-2560,ymax=-1920,xtick=\empty,
 ytick={-2560,-2480,-2400,-2320,-2240,-2160,-2080,-2000,-1920},
 yticklabels={−2560,−2480,−2400,−2320,−2240,−2160,−2080,−2000,−1920},
 yticklabel pos=right,tick align=outside,major tick length=6.5pt,
 tick style={black,line width=0.6pt},axis line style={line width=0.6pt},
 yticklabel style={font=\fC\fontsize{27}{27}\selectfont,xshift=4.5pt},
 ylabel={Energy (kcal/mol)},
 ylabel style={at={(axis description cs:5.92,0.505)},anchor=center,rotate=0,font=\fEn\fontsize{29.5}{30}\selectfont},
 axis on top]
\addplot[poly=e2540] coordinates {(0,-2560)(1,-2560)(1,-2520)(0,-2520)} --cycle;
\addplot[poly=e2500] coordinates {(0,-2520)(1,-2520)(1,-2480)(0,-2480)} --cycle;
\addplot[poly=e2460] coordinates {(0,-2480)(1,-2480)(1,-2440)(0,-2440)} --cycle;
\addplot[poly=e2420] coordinates {(0,-2440)(1,-2440)(1,-2400)(0,-2400)} --cycle;
\addplot[poly=e2380] coordinates {(0,-2400)(1,-2400)(1,-2360)(0,-2360)} --cycle;
\addplot[poly=e2340] coordinates {(0,-2360)(1,-2360)(1,-2320)(0,-2320)} --cycle;
\addplot[poly=e2300] coordinates {(0,-2320)(1,-2320)(1,-2280)(0,-2280)} --cycle;
\addplot[poly=e2260] coordinates {(0,-2280)(1,-2280)(1,-2240)(0,-2240)} --cycle;
\addplot[poly=e2220] coordinates {(0,-2240)(1,-2240)(1,-2200)(0,-2200)} --cycle;
\addplot[poly=e2180] coordinates {(0,-2200)(1,-2200)(1,-2160)(0,-2160)} --cycle;
\addplot[poly=e2140] coordinates {(0,-2160)(1,-2160)(1,-2120)(0,-2120)} --cycle;
\addplot[poly=e2100] coordinates {(0,-2120)(1,-2120)(1,-2080)(0,-2080)} --cycle;
\addplot[poly=e2060] coordinates {(0,-2080)(1,-2080)(1,-2040)(0,-2040)} --cycle;
\addplot[poly=e2020] coordinates {(0,-2040)(1,-2040)(1,-2000)(0,-2000)} --cycle;
\addplot[poly=e1980] coordinates {(0,-2000)(1,-2000)(1,-1960)(0,-1960)} --cycle;
\addplot[poly=e1940] coordinates {(0,-1960)(1,-1960)(1,-1920)(0,-1920)} --cycle;
\end{axis}
\end{tikzpicture}
\end{document}
